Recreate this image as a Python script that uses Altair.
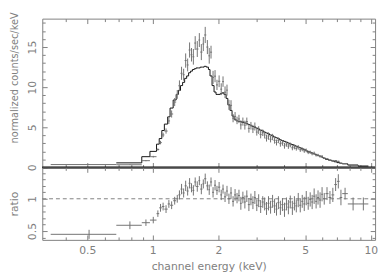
import altair as alt
import pandas as pd

# ---------------- data ----------------
# channel-energy bin edges (keV)
edges = [0.34, 0.68, 0.89, 0.97, 1.04, 1.07, 1.10, 1.13, 1.17, 1.20, 1.24, 1.28,
         1.31, 1.34, 1.37, 1.40, 1.43, 1.46, 1.49, 1.52, 1.55, 1.58,
         1.62, 1.65, 1.69, 1.72, 1.76, 1.80, 1.83, 1.87, 1.91, 1.95,
         1.99, 2.04, 2.08, 2.12, 2.17, 2.21, 2.26, 2.31, 2.36, 2.41,
         2.46, 2.51, 2.56, 2.62, 2.67, 2.73, 2.79, 2.85, 2.91, 2.97,
         3.03, 3.09, 3.16, 3.23, 3.29, 3.36, 3.43, 3.51, 3.58, 3.66,
         3.73, 3.81, 3.89, 3.98, 4.06, 4.15, 4.23, 4.32, 4.42, 4.51,
         4.60, 4.70, 4.80, 4.90, 5.01, 5.11, 5.22, 5.33, 5.44, 5.56,
         5.67, 5.79, 5.92, 6.04,
         6.20, 6.40, 6.60, 6.80, 7.00, 7.20, 7.40, 7.85, 8.75, 9.75]

# folded model (normalized counts/sec/keV) per bin
model = [0.80, 0.57, 1.34, 2.0, 2.9, 3.6, 4.6, 5.4, 6.3, 7.4, 8.4, 9.1,
         9.6, 10.2, 10.6, 11.1, 11.4, 11.8, 12.0, 12.2, 12.3, 12.4,
         12.4, 12.5, 12.5, 12.6, 12.5, 12.2, 11.4, 10.2, 9.4, 9.1,
         9.1, 9.2, 9.3, 9.1, 8.6, 7.8, 7.1, 6.4, 6.0, 5.8,
         5.75, 5.7, 5.6, 5.55, 5.5, 5.35, 5.25, 5.1, 5.0, 4.9,
         4.8, 4.65, 4.55, 4.4, 4.3, 4.2, 4.05, 3.95, 3.8, 3.7,
         3.6, 3.45, 3.35, 3.25, 3.15, 3.05, 2.95, 2.85, 2.75, 2.65,
         2.55, 2.45, 2.35, 2.25, 2.1, 2.0, 1.9, 1.8, 1.7, 1.6,
         1.5, 1.4, 1.3, 1.15, 1.0, 0.9, 0.8, 0.7, 0.6, 0.52,
         0.45, 0.3, 0.17]

# data / model ratio per bin
ratio = [0.45, 0.59, 0.63, 0.67, 0.77, 0.86, 0.88, 0.84, 0.92, 0.90, 0.97, 1.00,
         1.06, 1.15, 1.09, 1.20, 1.12, 1.24, 1.17, 1.13, 1.26, 1.19,
         1.28, 1.15, 1.23, 1.31, 1.20, 1.14, 1.26, 1.10, 1.21, 1.13,
         1.18, 1.06, 1.15, 1.03, 1.12, 1.00, 1.09, 0.96, 1.06, 1.01,
         1.05, 0.93, 1.02, 0.95, 1.04, 0.91, 0.99, 0.94, 1.02, 0.90,
         0.97, 0.88, 0.95, 0.92, 0.85, 0.93, 0.87, 0.96, 0.89, 0.84,
         0.94, 0.86, 0.91, 0.83, 0.92, 0.87, 0.95, 0.86, 0.93, 0.89,
         0.98, 0.90, 0.96, 0.92, 1.01, 0.93, 0.99, 0.95, 1.04, 0.96,
         1.02, 0.98, 1.07, 1.00, 1.08, 1.02, 1.06, 1.22, 1.27, 1.02,
         1.08, 0.92, 0.92]

ratio_err = [0.07, 0.06, 0.05, 0.05, 0.05, 0.06, 0.06, 0.06, 0.06, 0.06, 0.06, 0.06,
             0.07, 0.08, 0.07, 0.08, 0.07, 0.08, 0.07, 0.08, 0.07, 0.08,
             0.07, 0.08, 0.07, 0.08, 0.07, 0.08, 0.07, 0.08, 0.08, 0.07,
             0.08, 0.08, 0.07, 0.08, 0.08, 0.08, 0.09, 0.08, 0.09, 0.08,
             0.09, 0.10, 0.09, 0.10, 0.09, 0.10, 0.09, 0.10, 0.10, 0.09,
             0.10, 0.10, 0.09, 0.10, 0.10, 0.11, 0.10, 0.10, 0.11, 0.10,
             0.10, 0.11, 0.10, 0.11, 0.10, 0.11, 0.10, 0.11, 0.11, 0.10,
             0.11, 0.11, 0.10, 0.11, 0.11, 0.10, 0.11, 0.11, 0.12, 0.11,
             0.11, 0.12, 0.11, 0.09, 0.10, 0.10, 0.11, 0.10, 0.11, 0.12,
             0.09, 0.10, 0.10]

# axis tick values
x_labels = [0.5, 1, 2, 5, 10]
x_ticks = [0.4, 0.5, 0.6, 0.7, 0.8, 0.9, 1, 2, 3, 4, 5, 6, 7, 8, 9, 10]
y1_labels = [0, 5, 10, 15]
y1_ticks = [0, 1, 2, 3, 4, 5, 6, 7, 8, 9, 10, 11, 12, 13, 14, 15, 16, 17, 18]
y2_labels = [0.5, 1]
y2_ticks = [0.4, 0.5, 0.6, 0.7, 0.8, 0.9, 1.0, 1.1, 1.2, 1.3, 1.4]

# ---------------- tables ----------------
df = pd.DataFrame({"lo": edges[:-1], "hi": edges[1:], "model": model,
                   "ratio": ratio, "rerr": ratio_err})
df["center"] = (df["lo"] + df["hi"]) / 2
df["counts"] = df["model"] * df["ratio"]
df["c_lo"] = df["counts"] - df["model"] * df["rerr"]
df["c_hi"] = df["counts"] + df["model"] * df["rerr"]
df["r_lo"] = df["ratio"] - df["rerr"]
df["r_hi"] = df["ratio"] + df["rerr"]

rows = []
for i in range(1, len(df)):
    rows.append({"k": 2 * i, "e": df["lo"][i], "m": df["model"][i]})
    rows.append({"k": 2 * i + 1, "e": df["hi"][i], "m": df["model"][i]})
step = pd.DataFrame(rows)

one = pd.DataFrame({"x": [1.0], "y": [1.0]})
zero_df = pd.DataFrame({"v": [0.0]})
unity_df = pd.DataFrame({"v": [1.0]})

# ---------------- styling ----------------
GRAY = "#808080"
DATA = "#727272"
FONT = "DejaVu Sans"
W, H1, H2 = 340, 152, 74

XS = alt.Scale(type="log", domain=[0.311, 10.47], nice=False)
YS1 = alt.Scale(domain=[0, 18.54], nice=False, zero=False)
YS2 = alt.Scale(domain=[0.364, 1.485], nice=False, zero=False)


def tick_axis(orient, offset, values, major):
    cond = {"condition": {"test": "indexof(%s, datum.value) >= 0" % major, "value": 5},
            "value": 3}
    return alt.Axis(orient=orient, offset=offset, values=values, labels=False,
                    domain=False, grid=False, ticks=True, tickSize=cond,
                    tickColor=GRAY, title=None)


XMAJ = "[0.5,1,2,5,10]"
Y1MAJ = "[0,5,10,15]"
Y2MAJ = "[0.5,1]"

# ---------------- top panel ----------------
t_a = alt.Chart(one).mark_point(opacity=0).encode(
    x=alt.X("x:Q", scale=XS, axis=tick_axis("top", -H1, x_ticks, XMAJ)),
    y=alt.Y("y:Q", scale=YS1, axis=alt.Axis(
        orient="left", values=y1_labels, format="d", ticks=False, tickSize=0,
        domain=False, grid=False, labelAngle=270, labelAlign="center",
        labelBaseline="alphabetic", labelPadding=7, labelFlush=False,
        labelOverlap=False, title="normalized counts/sec/keV", titleFontSize=10,
        titleX=-25, titleY=60, titleAngle=270, titleBaseline="alphabetic",
        titleAlign="center")),
)
t_b = alt.Chart(one).mark_point(opacity=0).encode(
    x=alt.X("x:Q", scale=XS, axis=tick_axis("bottom", -H1, x_ticks, XMAJ)),
    y=alt.Y("y:Q", scale=YS1, axis=tick_axis("right", -W, y1_ticks, Y1MAJ)),
)
t_c = alt.Chart(one).mark_point(opacity=0).encode(
    x=alt.X("x:Q", scale=XS, axis=None),
    y=alt.Y("y:Q", scale=YS1, axis=tick_axis("left", -W, y1_ticks, Y1MAJ)),
)
model_line = alt.Chart(step).mark_line(color="#111111", strokeWidth=1, clip=True).encode(
    x=alt.X("e:Q", scale=XS, axis=None),
    y=alt.Y("m:Q", scale=YS1, axis=None),
    order="k:Q",
)
hbar1 = alt.Chart(df).mark_rule(color=DATA, strokeWidth=1, clip=True).encode(
    x=alt.X("lo:Q", scale=XS, axis=None), x2="hi:Q",
    y=alt.Y("counts:Q", scale=YS1, axis=None),
)
vbar1 = alt.Chart(df).mark_rule(color=DATA, strokeWidth=1, clip=True).encode(
    x=alt.X("center:Q", scale=XS, axis=None),
    y=alt.Y("c_lo:Q", scale=YS1, axis=None), y2="c_hi:Q",
)
zero = alt.Chart(zero_df).mark_rule(color="black", strokeWidth=2).encode(
    y=alt.Y("v:Q", scale=YS1, axis=None)
)
top = alt.layer(t_a, t_b, t_c, model_line, hbar1, vbar1, zero).resolve_axis(
    x="independent", y="independent").properties(width=W, height=H1)

# ---------------- ratio panel ----------------
b_a = alt.Chart(one).mark_point(opacity=0).encode(
    x=alt.X("x:Q", scale=XS, axis=alt.Axis(
        orient="bottom", values=x_labels, format="~g", ticks=False, tickSize=0,
        domain=False, grid=False, labelPadding=5, labelFlush=False,
        labelOverlap=False, title="channel energy (keV)", titlePadding=5)),
    y=alt.Y("y:Q", scale=YS2, axis=alt.Axis(
        orient="left", values=y2_labels, format="~g", ticks=False, tickSize=0,
        domain=False, grid=False, labelAngle=270, labelAlign="center",
        labelBaseline="alphabetic", labelPadding=7, labelFlush=False,
        labelOverlap=False, title="ratio", titleX=-25, titleAngle=270,
        titleBaseline="alphabetic", titleAlign="center")),
)
b_b = alt.Chart(one).mark_point(opacity=0).encode(
    x=alt.X("x:Q", scale=XS, axis=tick_axis("top", -H2, x_ticks, XMAJ)),
    y=alt.Y("y:Q", scale=YS2, axis=tick_axis("right", -W, y2_ticks, Y2MAJ)),
)
b_c = alt.Chart(one).mark_point(opacity=0).encode(
    x=alt.X("x:Q", scale=XS, axis=tick_axis("bottom", -H2, x_ticks, XMAJ)),
    y=alt.Y("y:Q", scale=YS2, axis=tick_axis("left", -W, y2_ticks, Y2MAJ)),
)
unity = alt.Chart(unity_df).mark_rule(color=GRAY, strokeWidth=1, strokeDash=[4, 3]).encode(
    y=alt.Y("v:Q", scale=YS2, axis=None)
)
hbar2 = alt.Chart(df).mark_rule(color=DATA, strokeWidth=1, clip=True).encode(
    x=alt.X("lo:Q", scale=XS, axis=None), x2="hi:Q",
    y=alt.Y("ratio:Q", scale=YS2, axis=None),
)
vbar2 = alt.Chart(df).mark_rule(color=DATA, strokeWidth=1, clip=True).encode(
    x=alt.X("center:Q", scale=XS, axis=None),
    y=alt.Y("r_lo:Q", scale=YS2, axis=None), y2="r_hi:Q",
)
bottom = alt.layer(b_a, b_b, b_c, unity, hbar2, vbar2).resolve_axis(
    x="independent", y="independent").properties(width=W, height=H2)

chart = alt.vconcat(top, bottom, spacing=0, bounds="flush").properties(
    padding={"left": 0, "top": 0, "right": 0, "bottom": 0}
).configure_view(stroke=GRAY, strokeWidth=1).configure_axis(
    labelFont=FONT, labelFontSize=11, labelColor=GRAY,
    titleFont=FONT, titleFontSize=11, titleFontWeight="normal", titleColor=GRAY,
    grid=False, domain=False, tickColor=GRAY, tickWidth=1,
)

chart.save("out.html", embed_options={"renderer": "svg", "actions": False})
